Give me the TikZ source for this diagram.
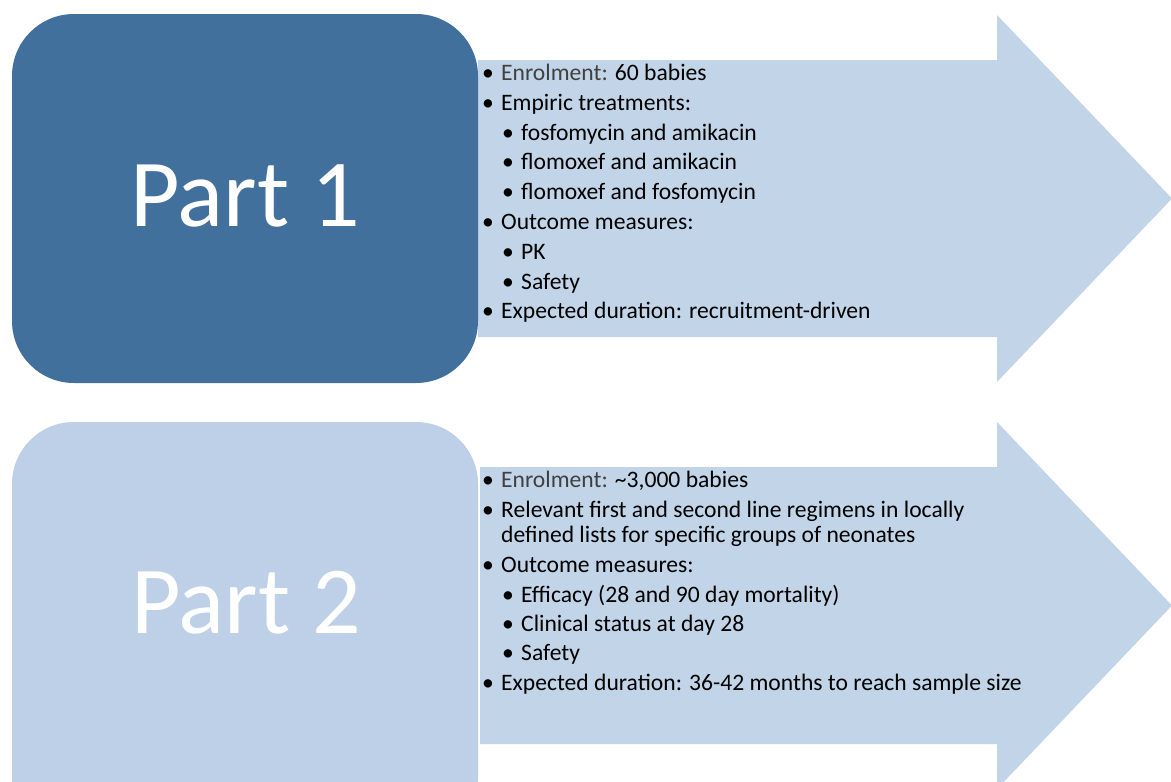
\documentclass[tikz,border=0pt]{standalone}
\usepackage{fontspec}
\setmainfont{Carlito}
\definecolor{partdark}{HTML}{41709C}
\definecolor{partlight}{HTML}{BDD0E8}
\definecolor{arrowfill}{HTML}{C2D4E8}
\definecolor{leadgray}{HTML}{404040}
\newcommand{\lead}[1]{\textcolor{leadgray}{#1}}
\begin{document}
\begin{tikzpicture}[x=1pt,y=-1pt,
  partbox/.style={rounded corners=62pt},
  parttitle/.style={anchor=base,inner sep=0pt,text=white,font=\fontsize{96}{110}\selectfont},
  lineone/.style={anchor=base west,inner sep=0pt,font=\fontsize{23.6}{28}\selectfont},
]
\clip (0,0) rectangle (1171,782);
\fill[white] (0,0) rectangle (1171,782);

% ---- Part 1 ----
\fill[arrowfill] (478,60) -- (997,60) -- (997,15) -- (1172,198.5)
  -- (997,382) -- (997,337) -- (478,337) -- cycle;
\fill[partdark,partbox] (12,14) rectangle (478,383);
\node[parttitle] (p1) at (245,226) {Part 1};

\foreach \y/\lvl/\txt [count=\i] in {
  80/0/{\lead{Enrolment:} 60 babies},
  110/0/{Empiric treatments:},
  140/1/{fosfomycin and amikacin},
  169.5/1/{flomoxef and amikacin},
  199/1/{flomoxef and fosfomycin},
  229/0/{Outcome measures:},
  259/1/{PK},
  289/1/{Safety},
  318/0/{Expected duration: recruitment-driven}}
  \node[lineone] (a\i) at ({482+20*\lvl},\y) {\makebox[19pt][l]{\textbullet}\txt};

% ---- Part 2 ----
\fill[arrowfill] (480,467) -- (997,467) -- (997,422) -- (1172,605.5)
  -- (997,789) -- (997,744) -- (480,744) -- cycle;
\fill[partlight,partbox] (12,422) rectangle (478,840);
\node[parttitle] (p2) at (246,633) {Part 2};

\foreach \y/\lvl/\txt [count=\i] in {
  487/0/{\lead{Enrolment:} \textasciitilde3,000 babies},
  517/0/{Relevant first and second line regimens in locally},
  542/0/{\hspace{19pt}defined lists for specific groups of neonates},
  572/0/{Outcome measures:},
  602/1/{Efficacy (28 and 90 day mortality)},
  631/1/{Clinical status at day 28},
  660/1/{Safety},
  690/0/{Expected duration: 36-42 months to reach sample size}}
  \node[lineone] (b\i) at ({482+20*\lvl},\y)
    {\ifnum\i=3 \txt\else\makebox[19pt][l]{\textbullet}\txt\fi};
\end{tikzpicture}
\end{document}
